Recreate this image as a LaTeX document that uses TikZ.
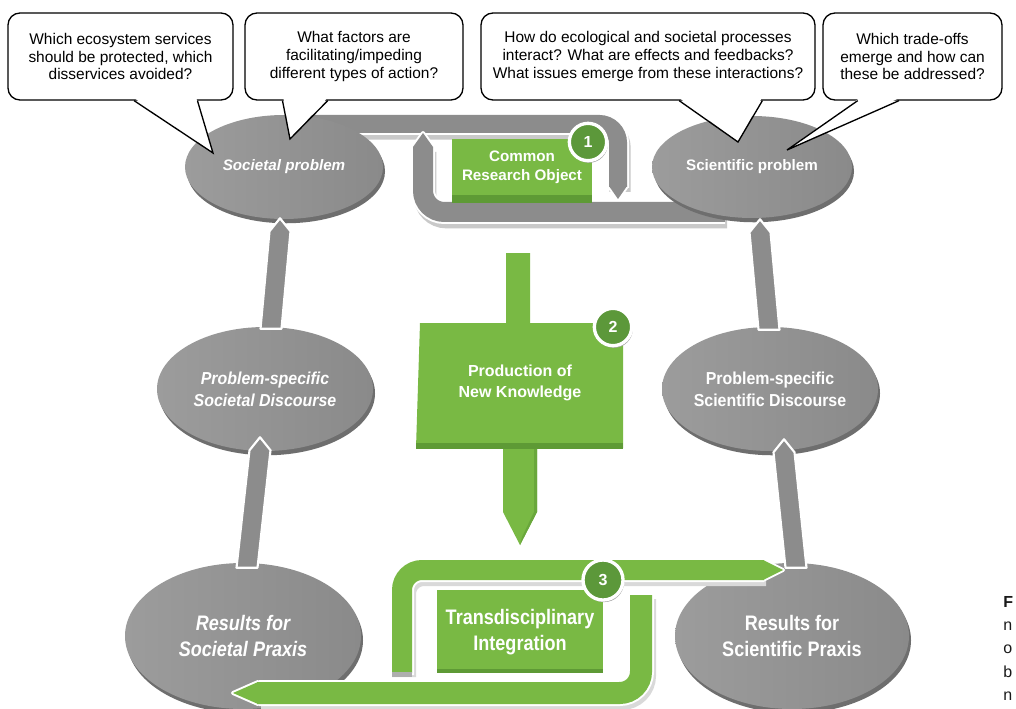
\documentclass[tikz,border=0pt]{standalone}
\usepackage{fontspec}
\setmainfont{Liberation Sans}
\newfontfamily\nfont[FakeStretch=0.86]{Liberation Sans}
\newfontfamily\mfont[FakeStretch=0.92]{Liberation Sans}
\usetikzlibrary{shapes.geometric,calc,shadows}
\definecolor{ellL}{HTML}{9C9C9C}
\definecolor{ellR}{HTML}{8A8A8A}
\definecolor{rim}{HTML}{6E6E6E}
\definecolor{bandgray}{HTML}{8C8C8C}
\definecolor{bandshadow}{HTML}{C9C9C9}
\definecolor{grn}{HTML}{79B944}
\definecolor{grnD}{HTML}{5E9A35}
\definecolor{numgrn}{HTML}{5C983A}
\newcommand\grayup[2]{%
  \filldraw[fill=bandgray, draw=white, line width=1.6pt, line join=round]
    ($(#1)+(-10.5,0)$) -- ($(#2)+(-10.5,13)$) -- (#2) -- ($(#2)+(10.5,13)$) -- ($(#1)+(10.5,0)$) -- cycle;}
\tikzset{
  callout/.style={draw=black, line width=1pt, fill=white, rounded corners=9pt, align=center, inner sep=0pt,
    font=\fontsize{11.6pt}{13.2pt}\selectfont},
  tail/.style={draw=black, line width=1pt, line join=miter},
  ell/.style={ellipse, inner xsep=-8pt, inner ysep=0pt, align=center, text=white, left color=ellL, right color=ellR,
    general shadow={fill=rim, shadow xshift=1.5pt, shadow yshift=-3.2pt}},
  elabA/.style={font=\bfseries\fontsize{11.4pt}{14pt}\selectfont},
  elabB/.style={font=\mfont\bfseries\fontsize{13pt}{16.5pt}\selectfont},
  elabC/.style={font=\nfont\bfseries\fontsize{15.75pt}{20pt}\selectfont},
  gtextA/.style={text=white, align=center, font=\bfseries\fontsize{11.4pt}{14.3pt}\selectfont},
  gtextB/.style={text=white, align=center, font=\bfseries\fontsize{12pt}{16.3pt}\selectfont},
  gtextC/.style={text=white, align=center, font=\nfont\bfseries\fontsize{15.75pt}{20pt}\selectfont},
  num/.style={circle, fill=numgrn, draw=white, line width=2.5pt, minimum size=28pt, inner sep=0pt, text=white,
    font=\bfseries\fontsize{12pt}{14pt}\selectfont,
    general shadow={fill=black!35, shadow xshift=0.8pt, shadow yshift=-1.6pt}},
  frag/.style={anchor=base west, inner sep=0pt, font=\fontsize{12pt}{14pt}\selectfont, text=black!90}
}
\begin{document}
\begin{tikzpicture}[x=0.75pt,y=-0.75pt]
\useasboundingbox (0,0) rectangle (1016,709);
\fill[white] (0,0) rectangle (1016,709);

% ---- gray U bands (Common Research Object loop)
\begin{scope}[shift={(2,5)}]
  \draw[bandshadow, line width=16pt, rounded corners=14pt] (300,124) -- (618,124) -- (618,187);
  \draw[bandshadow, line width=17pt, rounded corners=16pt] (725,212) -- (423,212) -- (423,147);
\end{scope}
\draw[white, line width=16.5pt, rounded corners=14pt] (300,124) -- (618,124) -- (618,188);
\filldraw[white, line width=3pt, line join=round] (609,186) -- (618,199) -- (627,186) -- cycle;
\draw[bandgray, line width=13.5pt, rounded corners=14pt] (300,124) -- (618,124) -- (618,187);
\fill[bandgray] (609,186) -- (618,199) -- (627,186) -- cycle;

\draw[white, line width=18pt, rounded corners=16pt] (725,212) -- (423,212) -- (423,146);
\filldraw[white, line width=3pt, line join=round] (413,147) -- (423,133) -- (433,147) -- cycle;
\draw[bandgray, line width=15pt, rounded corners=16pt] (725,212) -- (423,212) -- (423,147);
\fill[bandgray] (413,147) -- (423,133) -- (433,147) -- cycle;

% ---- ellipses
\node[ell, elabA, minimum width=148.5pt, minimum height=78pt] (sp) at (284,167) {\itshape Societal problem};
\node[ell, elabA, minimum width=150pt, minimum height=76.5pt] (scp) at (752,167) {Scientific problem};
\node[ell, elabB, minimum width=162pt, minimum height=93pt] (psd) at (265,389) {\itshape Problem-specific\\\itshape Societal Discourse};
\node[ell, elabB, minimum width=162pt, minimum height=93pt] (pscd) at (770,389) {Problem-specific\\Scientific Discourse};
\node[ell, elabC, minimum width=177pt, minimum height=109.5pt] (rsp) at (243,636) {\itshape Results for\\\itshape Societal Praxis};
\node[ell, elabC, minimum width=175.5pt, minimum height=109.5pt] (rscp) at (792,636) {Results for\\Scientific Praxis};

% ---- gray upward connectors
\coordinate (a1b) at ($(psd.north)+(6,2)$);
\coordinate (a1t) at ($(sp.south)+(-4,-1)$);
\coordinate (a2b) at ($(rsp.north)+(4,5)$);
\coordinate (a2t) at ($(psd.south)+(-5,-14)$);
\coordinate (a3b) at ($(pscd.north)+(-1,3)$);
\coordinate (a3t) at ($(scp.south)+(8,1)$);
\coordinate (a4b) at ($(rscp.north)+(4,5)$);
\coordinate (a4t) at ($(pscd.south)+(14,-12)$);
\grayup{a1b}{a1t}
\grayup{a2b}{a2t}
\grayup{a3b}{a3t}
\grayup{a4b}{a4t}

% ---- Common Research Object box
\fill[grn] (452,139) rectangle (592,203);
\fill[grnD] (452,195) rectangle (592,203);
\node[gtextA] (cro) at (522,167) {Common\\Research Object};

% ---- Production of New Knowledge arrow
\fill[grn] (506,253) -- (530,253) -- (530,323) -- (623,323) -- (623,448) -- (537,448) -- (537,512)
  -- (520,545) -- (503,512) -- (503,448) -- (416,448) -- (420,323) -- (506,323) -- cycle;
\fill[grnD] (416,443) -- (623,443) -- (623,449) -- (416,449) -- cycle;
\fill[grnD!60!grn] (534,449) -- (537,449) -- (537,512) -- (520,545) -- (522,537) -- (534,512) -- cycle;
\node[gtextB] (pnk) at (520,383) {Production of\\New Knowledge};

% ---- green U bands (Transdisciplinary Integration)
\begin{scope}[shift={(2,4)}]
  \draw[bandshadow!70, line width=18pt, rounded corners=15pt] (402,673) -- (402,570) -- (764,570);
  \draw[bandshadow!70, line width=19.5pt, rounded corners=16pt] (641,595) -- (641,693) -- (259,693);
\end{scope}
\draw[white, line width=19.5pt, rounded corners=16pt] (641,594) -- (641,693) -- (259,693);
\filldraw[white, line width=3pt, line join=round] (258,682) -- (233,693) -- (258,704) -- cycle;
\draw[grn, line width=16.5pt, rounded corners=16pt] (641,595) -- (641,693) -- (257,693);
\fill[grn] (258,682) -- (233,693) -- (258,704) -- cycle;

\draw[white, line width=18pt, rounded corners=15pt] (402,675) -- (402,570) -- (764,570);
\filldraw[white, line width=3pt, line join=round] (763,560) -- (783,570) -- (763,580) -- cycle;
\draw[grn, line width=15pt, rounded corners=15pt] (402,673) -- (402,570) -- (764,570);
\fill[grn] (763,560) -- (783,570) -- (763,580) -- cycle;
\fill[bandgray!70] (392,672) rectangle (412,677);

% ---- Transdisciplinary Integration box
\fill[grn] (437,590) rectangle (603,673);
\fill[grnD] (437,669) rectangle (603,673);
\node[gtextC] (tdi) at (520,632) {Transdisciplinary\\Integration};

% ---- callouts
\node[callout, minimum width=168.75pt, minimum height=65.25pt] (c1) at (120.5,56.5)
  {Which ecosystem services\\should be protected, which\\disservices avoided?};
\node[callout, minimum width=163.5pt, minimum height=65.25pt] (c2) at (354,56.5)
  {What factors are\\facilitating/impeding\\different types of action?};
\node[callout, minimum width=250.5pt, minimum height=65.25pt] (c3) at (648,56.5)
  {How do ecological and societal processes\\interact? What are effects and feedbacks?\\What issues emerge from these interactions?};
\node[callout, minimum width=134.25pt, minimum height=65.25pt] (c4) at (912.5,56.5)
  {Which trade-offs\\emerge and how can\\these be addressed?};

\coordinate (t1) at (213,153);
\coordinate (t2) at (290,139);
\coordinate (t3) at (738,142);
\coordinate (t4) at (787,150);
\coordinate (c1a) at ($(c1.south west)!0.56!(c1.south east)$);
\coordinate (c1b) at ($(c1.south west)!0.84!(c1.south east)$);
\coordinate (c2a) at ($(c2.south west)!0.174!(c2.south east)$);
\coordinate (c2b) at ($(c2.south west)!0.38!(c2.south east)$);
\coordinate (c3a) at ($(c3.south west)!0.593!(c3.south east)$);
\coordinate (c3b) at ($(c3.south west)!0.841!(c3.south east)$);
\coordinate (c4a) at ($(c4.south west)!0.196!(c4.south east)$);
\coordinate (c4b) at ($(c4.south west)!0.425!(c4.south east)$);
\foreach \c/\t in {c1/t1, c2/t2, c3/t3, c4/t4} {
  \fill[white] ($(\c a)+(1,-2)$) -- (\t) -- ($(\c b)+(-1,-2)$) -- cycle;
  \draw[tail] (\c a) -- (\t) -- (\c b);
}

% ---- number circles
\node[num] (n1) at (588,142) {1};
\node[num] (n2) at (613,327) {2};
\node[num, minimum size=30pt] (n3) at (603,580) {3};

% ---- cut-off caption letters at right edge
\node[frag, font=\bfseries\fontsize{12pt}{14pt}\selectfont] (f1) at (1003,607) {F};
\node[frag] (f2) at (1003,630) {n};
\node[frag] (f3) at (1003,653) {o};
\node[frag] (f4) at (1003,677) {b};
\node[frag] (f5) at (1003,700) {n};
\end{tikzpicture}
\end{document}
